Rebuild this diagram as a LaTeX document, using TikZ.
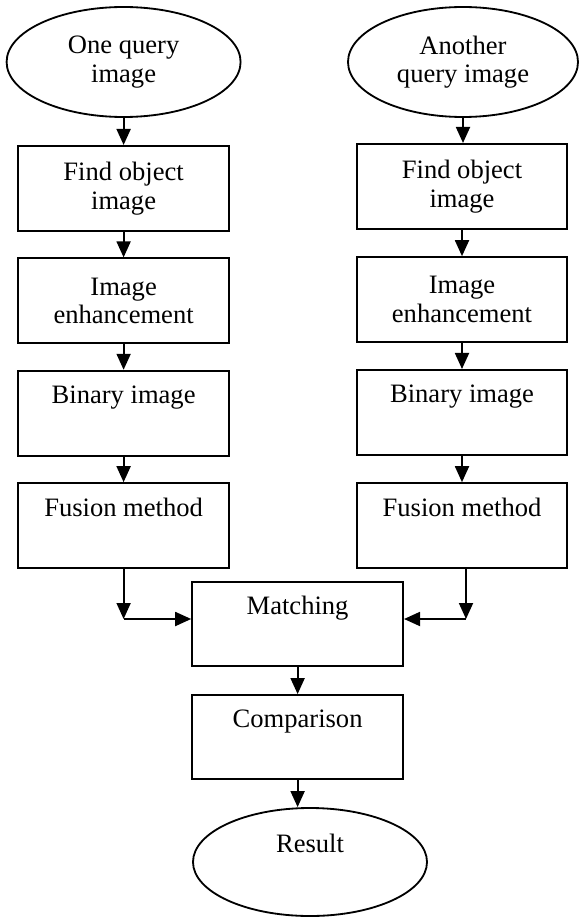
\documentclass[tikz,border=0pt]{standalone}
\usepackage{fontspec}
\setmainfont{Liberation Serif}
\usetikzlibrary{arrows.meta, positioning, calc, shapes.geometric}
\tikzset{
  >={Triangle[length=4mm,width=3.5mm]},
  flow/.style={-{Triangle[length=4mm,width=3.5mm]}, line width=1.3pt},
  stepbox/.style={draw, line width=1.3pt, minimum width=5.275cm, minimum height=2.125cm,
                  inner sep=0pt, align=center},
  ovalnode/.style={ellipse, draw, line width=1.3pt, inner sep=0pt, align=center},
}

\begin{document}
\begin{tikzpicture}[font=\fontsize{18.9}{20.3}\selectfont, x=1cm, y=1cm]
\useasboundingbox (0,0) rectangle (14.475,-22.925);

% ---- query images ----
\node[ovalnode, minimum width=5.85cm, minimum height=2.75cm] (qryL) at (3.09,-1.55) {One query\\image};
\node[ovalnode, minimum width=5.75cm, minimum height=2.75cm] (qryR) at (11.575,-1.55) {Another\\query image};

% ---- left column ----
\node[stepbox] (findL) at (3.09,-4.71)  {Find object\\image};
\node[stepbox] (enhL)  at (3.09,-7.52)  {Image\\enhancement};
\node[stepbox] (binL)  at (3.09,-10.33) {Binary image\\\strut};
\node[stepbox] (fusL)  at (3.09,-13.14) {Fusion method\\\strut};

% ---- right column ----
\node[stepbox, minimum width=5.25cm] (findR) at (11.55,-4.66)  {Find object\\image};
\node[stepbox, minimum width=5.25cm] (enhR)  at (11.55,-7.49)  {Image\\enhancement};
\node[stepbox, minimum width=5.25cm] (binR)  at (11.55,-10.31) {Binary image\\\strut};
\node[stepbox, minimum width=5.25cm] (fusR)  at (11.55,-13.14) {Fusion method\\\strut};

% ---- matching and result ----
\node[stepbox, minimum height=2.1cm] (match) at (7.44,-15.6)   {Matching\\\strut};
\node[stepbox, minimum height=2.1cm] (comp)  at (7.44,-18.425) {Comparison\\\strut};
\node[ovalnode, minimum width=5.85cm, minimum height=2.7cm] (res) at (7.75,-21.55) {Result\\\strut};

\coordinate (jointL) at (3.09,-15.475);
\coordinate (jointR) at (11.65,-15.475);

\draw[flow] (qryL) -- (findL);
\draw[flow] (findL) -- (enhL);
\draw[flow] (enhL) -- (binL);
\draw[flow] (binL) -- (fusL);
\draw[flow] (fusL) -- (jointL);
\draw[flow] (jointL) -- (jointL -| match.west);

\draw[flow] (qryR.south) -- (qryR.south |- findR.north);
\draw[flow] (findR) -- (enhR);
\draw[flow] (enhR) -- (binR);
\draw[flow] (binR) -- (fusR);
\draw[flow] (jointR |- fusR.south) -- (jointR);
\draw[flow] (jointR) -- (jointR -| match.east);

\draw[flow] (match) -- (comp);
\draw[flow] (comp.south) -- (comp.south |- res.north);

\end{tikzpicture}
\end{document}
